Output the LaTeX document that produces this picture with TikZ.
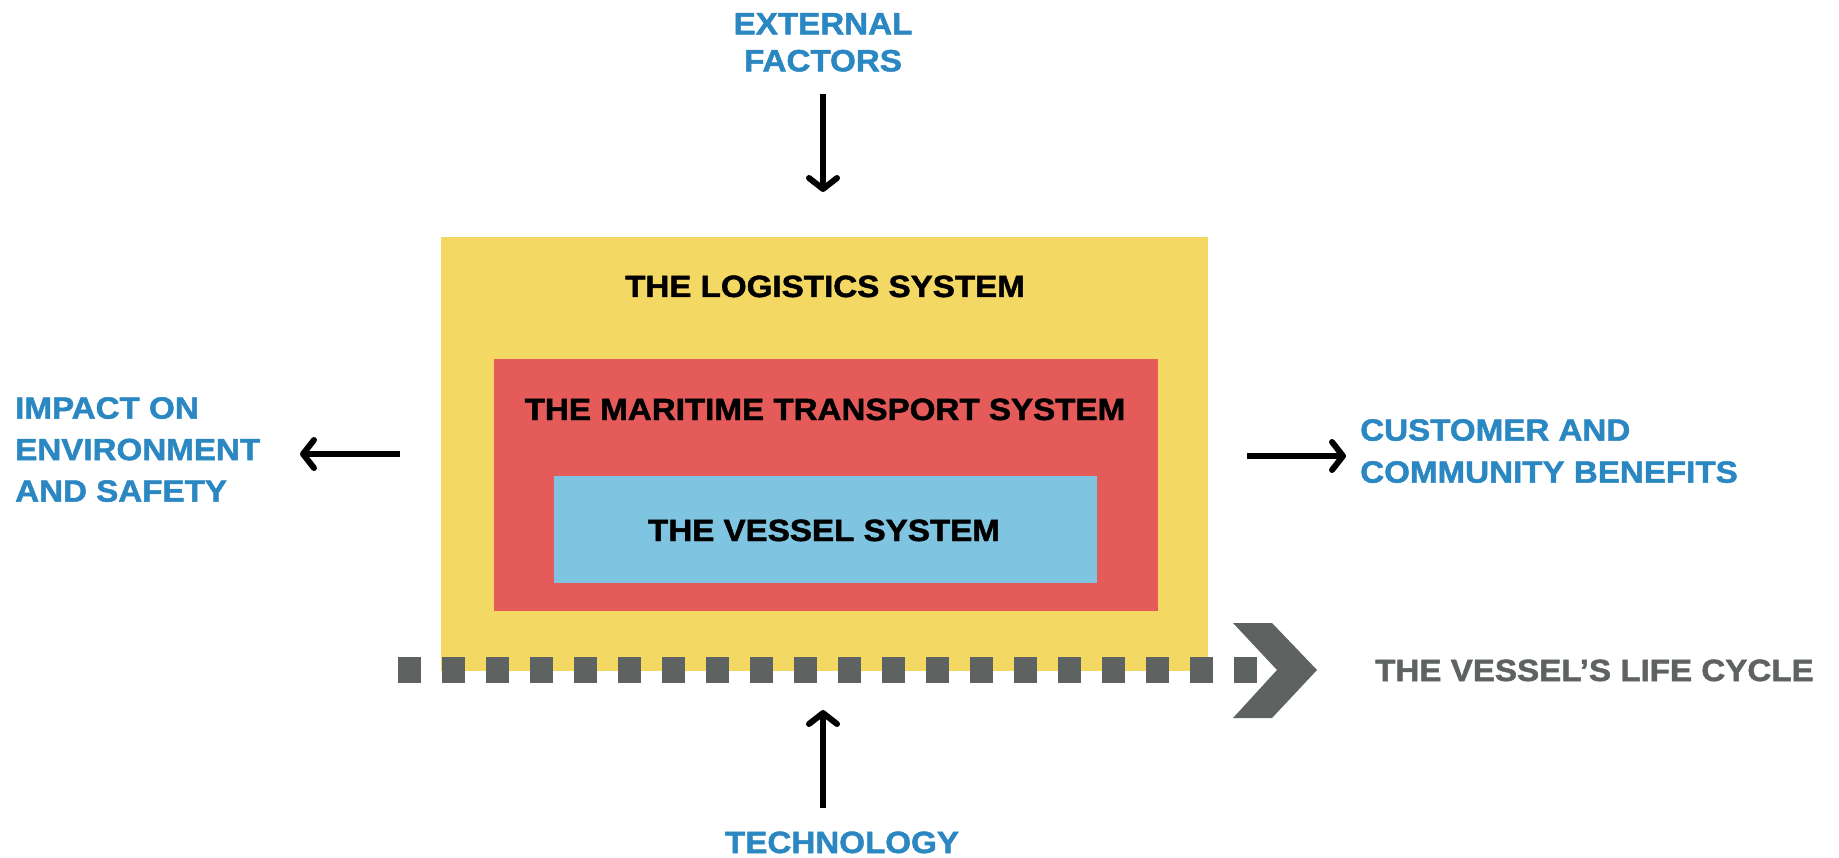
\documentclass[tikz,border=0pt]{standalone}
\usepackage{fontspec}
\setmainfont{Liberation Sans}[FakeStretch=1.08, BoldFeatures={FakeBold=1.6}]
\usetikzlibrary{arrows.meta}
\definecolor{yel}{HTML}{F4D864}
\definecolor{redb}{HTML}{E45B5A}
\definecolor{blub}{HTML}{7FC4E0}
\definecolor{txtblue}{HTML}{2A87C2}
\definecolor{gry}{HTML}{5E6362}
\tikzset{
  box/.style={inner sep=0pt, outer sep=0pt},
  lbl/.style={inner sep=0pt, font=\bfseries\fontsize{30.7}{37}\selectfont},
  bluelbl/.style={lbl, text=txtblue},
  arr/.style={line width=6pt, -{Straight Barb[length=11pt,width=28pt,line width=6pt,round]}},
  dashsq/.style={fill=gry, draw=none},
}
\begin{document}
\begin{tikzpicture}[x=1pt,y=-1pt]
\useasboundingbox (0,0) rectangle (1839,858);
% boxes
\node[box, fill=yel, minimum width=767pt, minimum height=434pt] (logi) at (824.5,454) {};
\node[box, fill=redb, minimum width=664pt, minimum height=252pt] (mari) at (826,485) {};
\node[box, fill=blub, minimum width=543pt, minimum height=107pt] (vess) at (825.5,529.5) {};
% box labels
\node[lbl, anchor=base] (logit) at (825,297) {THE LOGISTICS SYSTEM};
\node[lbl, anchor=base] (marit) at (825,420) {THE MARITIME TRANSPORT SYSTEM};
\node[lbl, anchor=base] (vesst) at (824,541) {THE VESSEL SYSTEM};
% outer labels
\node[bluelbl, anchor=north, align=center] (ext) at (823,13) {EXTERNAL\\FACTORS};
\node[bluelbl, anchor=north west, align=left, font=\bfseries\fontsize{30.7}{41.5}\selectfont] (imp) at (15,397) {IMPACT ON\\ENVIRONMENT\\AND SAFETY};
\node[bluelbl, anchor=north west, align=left, font=\bfseries\fontsize{30.7}{42}\selectfont] (cust) at (1360,419) {CUSTOMER AND\\COMMUNITY BENEFITS};
\node[bluelbl, anchor=base] (tech) at (842,853) {TECHNOLOGY};
\node[lbl, text=gry, anchor=base west] (life) at (1375,681) {THE VESSEL’S LIFE CYCLE};
% arrows
\coordinate (extA) at (823,94);
\coordinate (extB) at (823,192);
\coordinate (impA) at (400,454);
\coordinate (impB) at (300,454);
\coordinate (custA) at (1247,456);
\coordinate (custB) at (1346,456);
\coordinate (techA) at (823,808);
\coordinate (techB) at (823,710);
\draw[arr] (extA) -- (extB);
\draw[arr] (impA) -- (impB);
\draw[arr] (custA) -- (custB);
\draw[arr] (techA) -- (techB);
% life cycle dashes
\foreach \i in {0,...,19} {
  \fill[dashsq] ({398+44*\i},657) rectangle ({421+44*\i},683);
}
\fill[gry] (1233,623) -- (1272,623) -- (1317,670) -- (1272,718) -- (1233,718) -- (1277,670) -- cycle;
\end{tikzpicture}
\end{document}
